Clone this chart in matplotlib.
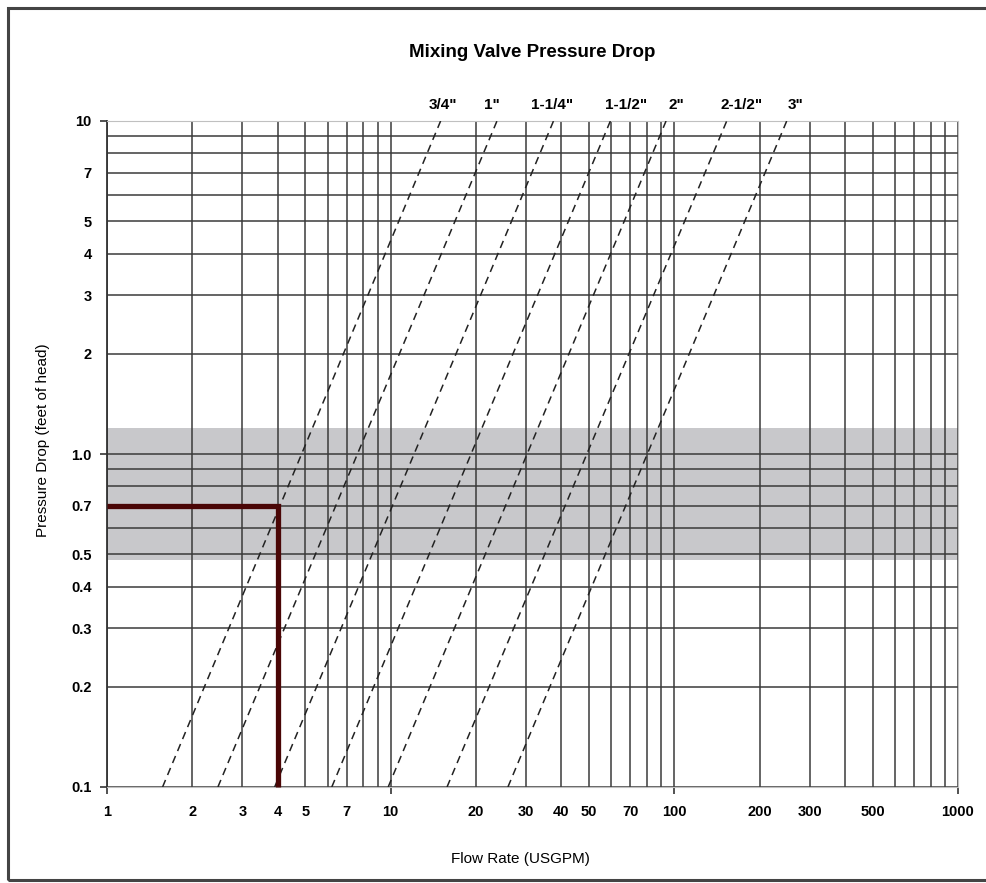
import matplotlib
matplotlib.use("Agg")
import matplotlib.pyplot as plt
from matplotlib.ticker import LogLocator, FuncFormatter
from matplotlib.patches import Rectangle

# valve sizes and flow (USGPM) where each curve meets 0.1 ft and 10 ft of head
sizes = ['3/4"', '1"', '1-1/4"', '1-1/2"', '2"', '2-1/2"', '3"']
flow_at_low = [1.57, 2.46, 3.9, 6.2, 9.8, 15.8, 25.9]
flow_at_high = [15.0, 23.7, 37.5, 59.5, 93.5, 153, 249]
drop_ends = [0.1, 10]
label_x = [15.3, 22.7, 37.0, 67.5, 102, 173, 268]

band_low, band_high = 0.48, 1.2
sel_flow, sel_drop = 4, 0.7

x_ticks = [1, 2, 3, 4, 5, 7, 10, 20, 30, 40, 50, 70, 100, 200, 300, 500, 1000]
y_ticks = [0.1, 0.2, 0.3, 0.4, 0.5, 0.7, 1.0, 2, 3, 4, 5, 7, 10]
y_tick_labels = ["0.1", "0.2", "0.3", "0.4", "0.5", "0.7", "1.0",
                 "2", "3", "4", "5", "7", "10"]

plt.rcParams["font.family"] = ["Liberation Sans", "DejaVu Sans"]


def pick_label(ticks, labels):
    def fmt(v, pos):
        for t, lab in zip(ticks, labels):
            if abs(v - t) / t < 1e-6:
                return lab
        return ""
    return FuncFormatter(fmt)


def main():
    fig = plt.figure(figsize=(9.86, 8.83), dpi=100)
    ax = fig.add_axes([107 / 986, 1 - 787 / 883, 851 / 986, 666 / 883])

    ax.set_xscale("log")
    ax.set_yscale("log")
    ax.set_xlim(1, 1000)
    ax.set_ylim(0.1, 10)

    # shaded recommended range
    ax.axhspan(band_low, band_high, color="#c8c8cb", zorder=0, lw=0)

    # grid on every 1..9 multiple
    for axis in (ax.xaxis, ax.yaxis):
        axis.set_major_locator(LogLocator(base=10, subs=(1.0,)))
        axis.set_minor_locator(LogLocator(base=10, subs=range(2, 10)))
    ax.grid(which="both", color="#3a3a3a", linewidth=1.1, zorder=1)

    ax.xaxis.set_major_formatter(pick_label(x_ticks, [str(t) for t in x_ticks]))
    ax.xaxis.set_minor_formatter(pick_label(x_ticks, [str(t) for t in x_ticks]))
    ax.yaxis.set_major_formatter(pick_label(y_ticks, y_tick_labels))
    ax.yaxis.set_minor_formatter(pick_label(y_ticks, y_tick_labels))

    ax.tick_params(which="major", length=5, width=1.2, color="#333333",
                   labelsize=10.5, pad=8)
    ax.tick_params(which="minor", length=0, labelsize=10.5, pad=13)
    ax.tick_params(axis="y", which="major", pad=6)
    ax.tick_params(axis="y", which="minor", pad=11)
    for lab in ax.get_xticklabels(which="both") + ax.get_yticklabels(which="both"):
        lab.set_fontweight("bold")

    for side in ("top", "right", "bottom"):
        ax.spines[side].set_color("#c0c0c0")
    ax.spines["left"].set_color("#333333")
    ax.spines["left"].set_linewidth(1.3)

    # valve curves
    for name, lo, hi, lx in zip(sizes, flow_at_low, flow_at_high, label_x):
        ax.plot([lo, hi], drop_ends, color="#222222", linestyle=(0, (5, 3.5)),
                linewidth=1.1, zorder=3)
        ax.text(lx, 11.2, name, ha="center", va="center", fontsize=11,
                fontweight="bold", clip_on=False)

    # selection example
    ax.plot([1, sel_flow, sel_flow], [sel_drop, sel_drop, 0.1], color="#4a0606",
            linewidth=3.8, solid_capstyle="butt", solid_joinstyle="miter",
            zorder=4, clip_on=False)

    ax.set_title("Mixing Valve Pressure Drop", fontsize=13.5, fontweight="bold",
                 pad=46)
    ax.set_xlabel("Flow Rate (USGPM)", fontsize=11)
    ax.set_ylabel("Pressure Drop (feet of head)", fontsize=11)
    ax.xaxis.set_label_coords(0.486, -0.097)
    ax.yaxis.set_label_coords(-0.067, 0.52)

    # outer frame
    fig.patches.append(Rectangle((8 / 986, 3 / 883), 1.2, 872 / 883,
                                 transform=fig.transFigure, fill=False,
                                 edgecolor="#444444", linewidth=2.2))

    fig.savefig("out.png", dpi=100)


if __name__ == "__main__":
    main()
